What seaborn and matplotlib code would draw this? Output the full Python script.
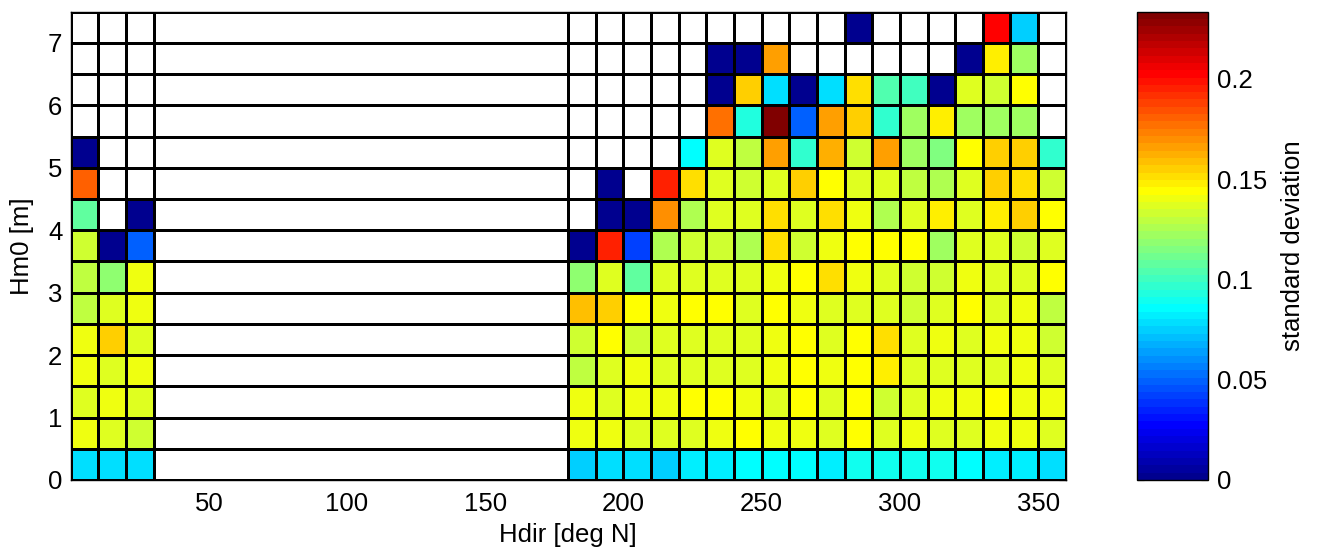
import numpy as np
import matplotlib
matplotlib.use("Agg")
import matplotlib.pyplot as plt
import seaborn as sns
from matplotlib.colors import ListedColormap

sns.set_style("white")
plt.rcParams['font.family'] = ['Liberation Sans', 'DejaVu Sans']
plt.rcParams['text.color'] = 'black'
plt.rcParams['axes.labelcolor'] = 'black'
plt.rcParams['xtick.color'] = 'black'
plt.rcParams['ytick.color'] = 'black'

# ---------------- data ----------------
# direction bin edges (deg N); the 30-180 sector is a single empty bin
dir_edges = [0, 10, 20, 30] + list(range(180, 361, 10))
# wave height bin edges (m)
hm0_edges = [0.0, 0.5, 1.0, 1.5, 2.0, 2.5, 3.0, 3.5, 4.0, 4.5, 5.0, 5.5, 6.0, 6.5, 7.0, 7.5]

N = np.nan
# each list: bins 0-10, 10-20, 20-30, 30-180 (empty), 180-190 ... 350-360
std_00_05 = [0.0784, 0.0784, 0.0784, N, 0.0748, 0.0784, 0.0784, 0.0748, 0.0821, 0.0821, 0.0857, 0.0857, 0.0857, 0.0821, 0.0894, 0.0894, 0.0894, 0.0894, 0.0857, 0.0821, 0.0821, 0.0784]
std_05_10 = [0.1404, 0.1368, 0.1331, N, 0.1404, 0.1404, 0.1368, 0.1368, 0.1368, 0.1404, 0.1441, 0.1404, 0.1404, 0.1368, 0.1441, 0.1368, 0.1404, 0.1368, 0.1368, 0.1404, 0.1404, 0.1368]
std_10_15 = [0.1368, 0.1404, 0.1368, N, 0.1404, 0.1368, 0.1404, 0.1404, 0.1441, 0.1441, 0.1404, 0.1368, 0.1441, 0.1368, 0.1441, 0.1331, 0.1368, 0.1404, 0.1404, 0.1441, 0.1404, 0.1404]
std_15_20 = [0.1404, 0.1368, 0.1404, N, 0.1295, 0.1368, 0.1404, 0.1368, 0.1368, 0.1368, 0.1368, 0.1404, 0.1441, 0.1404, 0.1441, 0.1477, 0.1368, 0.1368, 0.1368, 0.1368, 0.1404, 0.1368]
std_20_25 = [0.1404, 0.1550, 0.1368, N, 0.1331, 0.1441, 0.1331, 0.1368, 0.1368, 0.1368, 0.1368, 0.1404, 0.1441, 0.1368, 0.1441, 0.1514, 0.1368, 0.1404, 0.1368, 0.1404, 0.1404, 0.1331]
std_25_30 = [0.1295, 0.1368, 0.1404, N, 0.1587, 0.1550, 0.1441, 0.1404, 0.1441, 0.1441, 0.1368, 0.1441, 0.1404, 0.1368, 0.1368, 0.1368, 0.1331, 0.1368, 0.1441, 0.1368, 0.1404, 0.1295]
std_30_35 = [0.1295, 0.1185, 0.1404, N, 0.1185, 0.1368, 0.1076, 0.1368, 0.1368, 0.1368, 0.1368, 0.1404, 0.1441, 0.1514, 0.1404, 0.1368, 0.1331, 0.1331, 0.1404, 0.1368, 0.1368, 0.1441]
std_35_40 = [0.1331, 0.0000, 0.0492, N, 0.0000, 0.1951, 0.0419, 0.1258, 0.1331, 0.1331, 0.1258, 0.1514, 0.1331, 0.1404, 0.1441, 0.1441, 0.1441, 0.1222, 0.1368, 0.1368, 0.1331, 0.1368]
std_40_45 = [0.1076, N, 0.0000, N, N, 0.0000, 0.0000, 0.1696, 0.1258, 0.1368, 0.1368, 0.1514, 0.1368, 0.1514, 0.1404, 0.1258, 0.1368, 0.1477, 0.1368, 0.1477, 0.1550, 0.1441]
std_45_50 = [0.1805, N, N, N, N, 0.0000, N, 0.1951, 0.1514, 0.1368, 0.1331, 0.1368, 0.1550, 0.1441, 0.1368, 0.1368, 0.1295, 0.1258, 0.1368, 0.1550, 0.1514, 0.1331]
std_50_55 = [0.0000, N, N, N, N, N, N, N, 0.0857, 0.1368, 0.1295, 0.1659, 0.0966, 0.1623, 0.1331, 0.1659, 0.1222, 0.1149, 0.1441, 0.1550, 0.1550, 0.0966]
std_55_60 = [N, N, N, N, N, N, N, N, N, 0.1769, 0.0930, 0.2316, 0.0492, 0.1659, 0.1550, 0.0966, 0.1222, 0.1477, 0.1222, 0.1222, 0.1222, N]
std_60_65 = [N, N, N, N, N, N, N, N, N, 0.0000, 0.1550, 0.0784, 0.0000, 0.0784, 0.1514, 0.1039, 0.1003, 0.0000, 0.1368, 0.1331, 0.1441, N]
std_65_70 = [N, N, N, N, N, N, N, N, N, 0.0000, 0.0000, 0.1659, N, N, N, N, N, N, 0.0000, 0.1477, 0.1222, N]
std_70_75 = [N, N, N, N, N, N, N, N, N, N, N, N, N, N, 0.0000, N, N, N, N, 0.2024, 0.0748, N]

rows = [std_00_05, std_05_10, std_10_15, std_15_20, std_20_25, std_25_30, std_30_35,
        std_35_40, std_40_45, std_45_50, std_50_55, std_55_60, std_60_65, std_65_70, std_70_75]
Z = np.ma.masked_invalid(np.array(rows, dtype=float))

cbar_ticks = [0, 0.05, 0.1, 0.15, 0.2]
cbar_ticklabels = ['0', '0.05', '0.1', '0.15', '0.2']
x_ticks = [50, 100, 150, 200, 250, 300, 350]
y_ticks = [0, 1, 2, 3, 4, 5, 6, 7]
vmax = 0.2334


# MATLAB-style jet(64)
def matlab_jet(m=64):
    n = int(np.ceil(m / 4))
    u = np.concatenate([np.arange(1, n + 1) / n, np.ones(n - 1), np.arange(n, 0, -1) / n])
    g = int(np.ceil(n / 2)) - (1 if m % 4 == 1 else 0) + np.arange(1, len(u) + 1)
    r = g + n
    b = g - n
    J = np.zeros((m, 3))
    J[r[r <= m] - 1, 0] = u[r <= m]
    J[g[g <= m] - 1, 1] = u[g <= m]
    J[b[b >= 1] - 1, 2] = u[b >= 1]
    return ListedColormap(J)


cmap = matlab_jet(64)
cmap.set_bad('white')

FS = 18.5
fig = plt.figure(figsize=(13.18, 5.54), dpi=100)
ax = fig.add_axes([0.0536, 0.1336, 0.7550, 0.8453])
cax = fig.add_axes([0.8624, 0.1336, 0.0543, 0.8453])

mesh = ax.pcolormesh(dir_edges, hm0_edges, Z, cmap=cmap, vmin=0, vmax=vmax,
                     edgecolors='black', linewidth=0.8, antialiased=False)
ax.set_xlim(0, 360)
ax.set_ylim(0, 7.5)
ax.set_xticks(x_ticks)
ax.set_yticks(y_ticks)
ax.tick_params(direction='in', length=5, top=True, right=True, labelsize=FS,
               color='black', labelcolor='black', pad=6)
ax.tick_params(axis='x', pad=9)
for s in ax.spines.values():
    s.set_color('black')
    s.set_linewidth(1.0)
ax.set_xlabel('Hdir [deg N]', fontsize=FS, labelpad=5)
ax.set_ylabel('Hm0 [m]', fontsize=FS, labelpad=10)

cb = fig.colorbar(mesh, cax=cax)
cb.set_ticks(cbar_ticks)
cb.set_ticklabels(cbar_ticklabels)
cax.tick_params(direction='in', length=5, left=True, right=True, labelsize=FS, pad=6,
                color='black', labelcolor='black')
cb.outline.set_edgecolor('black')
cb.outline.set_linewidth(1.0)
cb.set_label('standard deviation', fontsize=FS, labelpad=10)

fig.savefig('out.png', dpi=100, facecolor='white')
